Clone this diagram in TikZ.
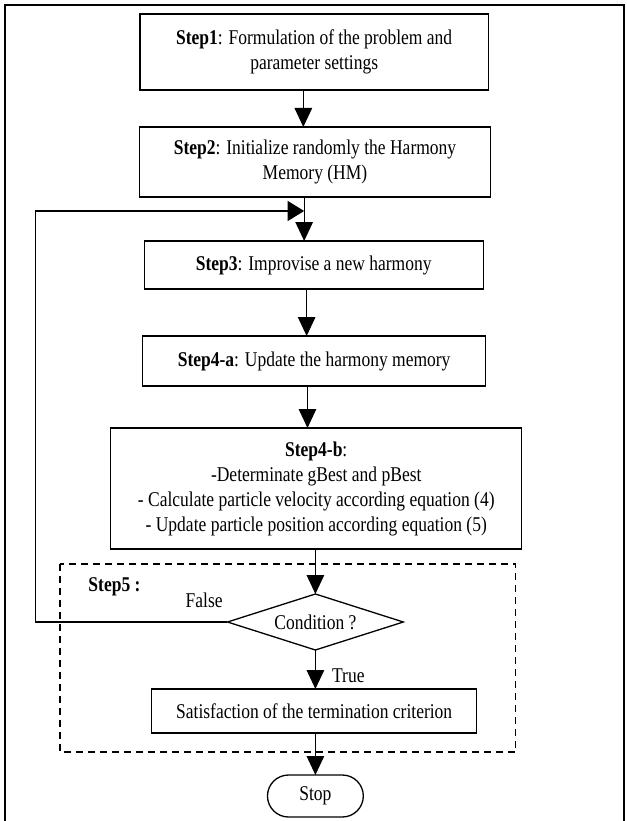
\documentclass[tikz,border=0pt]{standalone}
\usepackage{fontspec}
\setmainfont{Liberation Serif}
\usetikzlibrary{arrows.meta,shapes.geometric,calc}
\begin{document}
\begin{tikzpicture}[x=1pt,y=-1pt,xscale=0.8333,transform shape,
  every node/.style={font=\fontsize{21}{25}\selectfont},
  box/.style={draw,line width=1.3pt,rectangle,inner sep=0pt,outer sep=0pt,align=center},
  arr/.style={line width=1.3pt,-{Triangle[length=19pt,width=17.5pt]}},
  harr/.style={line width=1.3pt,-{Triangle[length=16.5pt,width=20pt]}},
  frame/.style={line width=2.2pt},
  dbox/.style={line width=1.3pt,dash pattern=on 7pt off 5pt}]
\clip (0,0) rectangle (752.4,821);
\draw[frame] (6,840) -- (6,5) -- (749,5) -- (749,840);
\node[box,minimum width=418pt,minimum height=76pt] (s1) at (377,52)
  {\textbf{Step1}: Formulation of the problem and\\parameter settings};
\node[box,minimum width=422pt,minimum height=70pt] (s2) at (378,162)
  {\textbf{Step2}: Initialize randomly the Harmony\\Memory (HM)};
\node[box,minimum width=407pt,minimum height=48pt] (s3) at (376.5,265)
  {\textbf{Step3}: Improvise a new harmony};
\node[box,minimum width=412pt,minimum height=50pt] (s4a) at (377,361)
  {\textbf{Step4-a}: Update the harmony memory};
\node[box,minimum width=493pt,minimum height=121pt] (s4b) at (379.5,488.5)
  {\textbf{Step4-b}:\\-Determinate gBest and pBest\\- Calculate particle velocity according equation (4)\\- Update particle position according equation (5)};
\draw[dbox] (72,564) rectangle (619,752);
\node[anchor=west,inner sep=0pt] (l5) at (106,587) {\textbf{Step5 :}};
\node[draw,diamond,line width=1.3pt,inner sep=0pt,outer sep=0pt,minimum width=211pt,minimum height=56pt,aspect=3.77] (cd) at (378.5,622) {Condition ?};
\node[inner sep=0pt] (fl) at (245,600) {False};
\node[inner sep=0pt] (tl) at (418,676) {True};
\node[box,minimum width=390pt,minimum height=44pt] (sat) at (377,711)
  {Satisfaction of the termination criterion};
\node[box,rounded corners=21pt,minimum width=115pt,minimum height=42pt] (stop) at (378.5,796) {Stop};
\coordinate (c1) at (364,0);
\coordinate (c2) at (365,0);
\coordinate (c3) at (368,0);
\coordinate (c4) at (369,0);
\coordinate (c5) at (378.5,0);
\coordinate (lx) at (43,0);
\coordinate (ly) at (0,211);
\draw[arr] (s1.south -| c1) -- (s2.north -| c1);
\draw[arr] (s2.south -| c2) -- (s3.north -| c2);
\draw[arr] (s3.south -| c3) -- (s4a.north -| c3);
\draw[arr] (s4a.south -| c4) -- (s4b.north -| c4);
\draw[arr] (s4b.south -| c5) -- (cd.north);
\draw[arr] (cd.south) -- (sat.north -| c5);
\draw[arr] (sat.south -| c5) -- (stop.north);
\draw[harr] (cd.west) -- (cd.west -| lx) -- (lx |- ly) -- (c2 |- ly);
\end{tikzpicture}
\end{document}
